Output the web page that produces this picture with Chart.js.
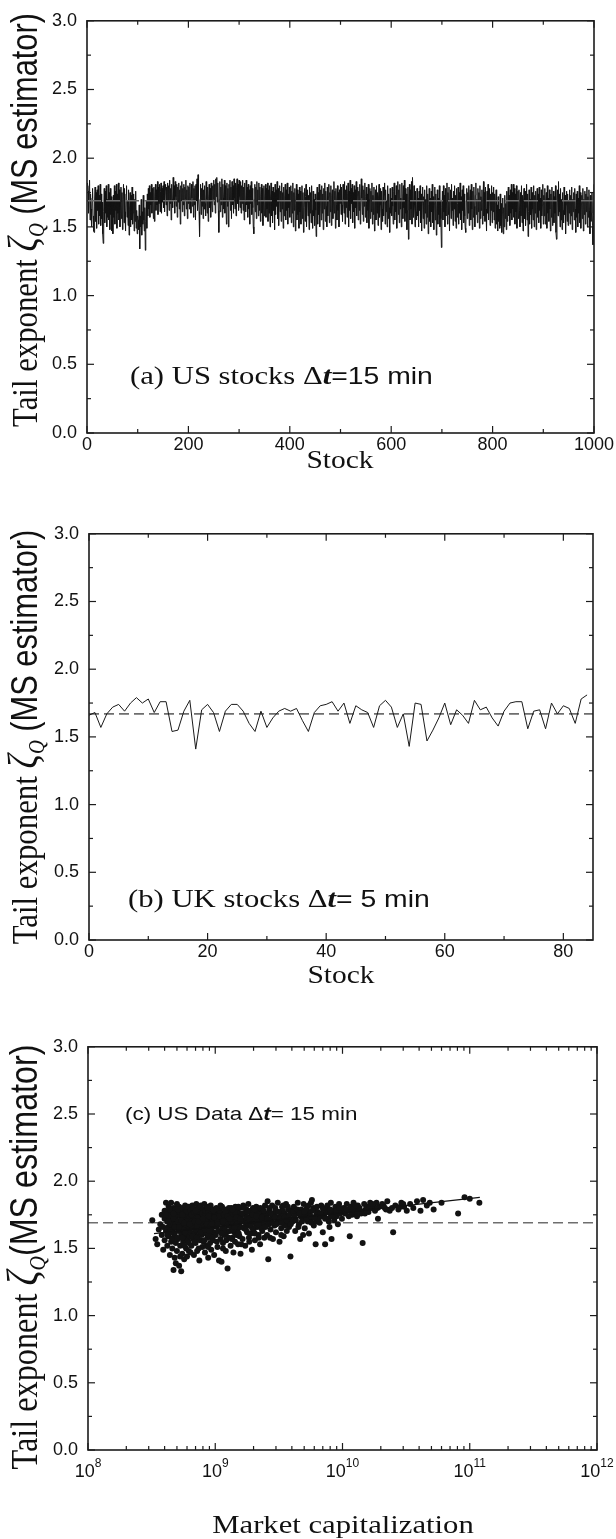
<!DOCTYPE html>
<html><head><meta charset="utf-8"><title>Tail exponent (MS estimator)</title>
<script src="https://cdn.jsdelivr.net/npm/chart.js@4.4.1/dist/chart.umd.min.js"></script>
<style>
html,body{margin:0;padding:0;background:#fff;}
#wrap{position:relative;width:616px;height:1539px;overflow:hidden;}
canvas{position:absolute;left:0;}
</style></head><body>
<div id="wrap">
<canvas id="cA" width="616" height="513" style="top:0"></canvas>
<canvas id="cB" width="616" height="513" style="top:513px"></canvas>
<canvas id="cC" width="616" height="513" style="top:1026px"></canvas>
</div>
<script>
// ---------------- DATA ----------------
// (a) US stocks, dt = 15 min : tail exponent per stock (stock 1..1000)
const usStocks15min = [
1.82,1.76,1.60,1.80,1.84,1.55,1.74,1.63,1.50,1.71,1.78,1.58,1.47,1.46,1.69,1.79,1.54,1.75,1.49,1.77,1.62,1.80,1.52,1.73,1.58,1.81,1.51,1.74,1.56,1.68,1.45,1.38,1.61,1.78,1.53,1.76,1.60,1.80,1.50,1.70,1.57,1.81,1.55,1.75,1.48,1.78,1.59,1.72,1.47,1.69,
1.45,1.73,1.57,1.80,1.52,1.76,1.62,1.81,1.49,1.74,1.60,1.82,1.55,1.77,1.50,1.68,1.79,1.56,1.75,1.48,1.70,1.81,1.53,1.78,1.61,1.47,1.74,1.80,1.57,1.69,1.51,1.77,1.44,1.63,1.75,1.50,1.73,1.55,1.79,1.52,1.60,1.74,1.47,1.70,1.54,1.76,1.49,1.62,1.45,1.58,
1.55,1.48,1.66,1.34,1.58,1.50,1.70,1.44,1.61,1.52,1.73,1.55,1.47,1.64,1.33,1.54,1.69,1.49,1.74,1.58,1.78,1.63,1.80,1.57,1.75,1.66,1.81,1.60,1.78,1.68,1.56,1.79,1.54,1.72,1.81,1.62,1.77,1.66,1.83,1.59,1.79,1.67,1.81,1.61,1.76,1.82,1.60,1.78,1.68,1.80,
1.64,1.83,1.61,1.77,1.81,1.66,1.79,1.58,1.82,1.69,1.80,1.62,1.84,1.67,1.78,1.55,1.81,1.70,1.64,1.86,1.69,1.80,1.60,1.83,1.72,1.65,1.81,1.57,1.79,1.68,1.82,1.63,1.77,1.52,1.80,1.69,1.83,1.61,1.78,1.66,1.81,1.58,1.79,1.70,1.84,1.63,1.77,1.56,1.80,1.67,
1.79,1.63,1.82,1.68,1.60,1.81,1.71,1.65,1.83,1.57,1.78,1.66,1.80,1.55,1.81,1.69,1.85,1.62,1.88,1.72,1.61,1.43,1.70,1.81,1.59,1.78,1.65,1.82,1.56,1.77,1.63,1.80,1.67,1.58,1.83,1.70,1.60,1.79,1.54,1.71,1.81,1.64,1.78,1.57,1.82,1.68,1.61,1.80,1.70,1.84,
1.66,1.81,1.60,1.85,1.72,1.86,1.68,1.82,1.62,1.46,1.70,1.83,1.61,1.79,1.66,1.85,1.57,1.81,1.71,1.63,1.84,1.60,1.80,1.68,1.52,1.82,1.65,1.78,1.50,1.81,1.69,1.84,1.62,1.79,1.56,1.83,1.66,1.80,1.60,1.85,1.71,1.63,1.82,1.58,1.79,1.85,1.67,1.81,1.62,1.84,
1.72,1.64,1.83,1.60,1.80,1.67,1.84,1.62,1.79,1.55,1.82,1.68,1.61,1.84,1.66,1.79,1.57,1.81,1.63,1.77,1.52,1.80,1.67,1.83,1.59,1.78,1.64,1.50,1.45,1.70,1.81,1.61,1.79,1.56,1.83,1.66,1.77,1.58,1.82,1.62,1.79,1.54,1.72,1.81,1.60,1.78,1.51,1.69,1.80,1.58,
1.70,1.81,1.57,1.78,1.63,1.82,1.54,1.77,1.60,1.80,1.50,1.71,1.82,1.58,1.76,1.53,1.79,1.62,1.75,1.48,1.81,1.59,1.77,1.65,1.83,1.56,1.78,1.51,1.68,1.80,1.61,1.76,1.54,1.82,1.63,1.75,1.49,1.79,1.58,1.71,1.81,1.55,1.77,1.62,1.82,1.52,1.74,1.64,1.79,1.57,
1.68,1.80,1.53,1.76,1.60,1.82,1.50,1.75,1.62,1.78,1.47,1.67,1.81,1.55,1.77,1.59,1.74,1.49,1.79,1.61,1.76,1.52,1.69,1.80,1.56,1.75,1.46,1.64,1.78,1.54,1.72,1.81,1.50,1.68,1.77,1.58,1.73,1.48,1.79,1.60,1.75,1.53,1.80,1.62,1.49,1.76,1.58,1.70,1.51,1.74,
1.62,1.43,1.70,1.79,1.52,1.75,1.59,1.81,1.50,1.69,1.77,1.55,1.80,1.60,1.74,1.48,1.78,1.63,1.82,1.54,1.76,1.65,1.50,1.79,1.58,1.72,1.81,1.53,1.75,1.61,1.80,1.51,1.73,1.77,1.56,1.68,1.83,1.60,1.76,1.49,1.78,1.66,1.55,1.80,1.62,1.75,1.50,1.77,1.67,1.81,
1.59,1.79,1.66,1.54,1.81,1.70,1.60,1.83,1.52,1.77,1.64,1.80,1.57,1.74,1.82,1.50,1.76,1.62,1.84,1.56,1.78,1.67,1.81,1.53,1.75,1.61,1.80,1.49,1.77,1.64,1.83,1.58,1.73,1.79,1.55,1.76,1.62,1.81,1.52,1.68,1.85,1.71,1.59,1.80,1.54,1.77,1.65,1.82,1.57,1.72,
1.79,1.53,1.74,1.62,1.81,1.49,1.70,1.78,1.56,1.76,1.61,1.82,1.52,1.73,1.59,1.79,1.47,1.68,1.77,1.55,1.80,1.60,1.75,1.51,1.71,1.81,1.57,1.66,1.78,1.48,1.76,1.63,1.54,1.79,1.58,1.73,1.82,1.52,1.77,1.61,1.69,1.50,1.80,1.56,1.74,1.64,1.46,1.78,1.60,1.71,
1.58,1.79,1.65,1.52,1.76,1.82,1.55,1.73,1.61,1.80,1.49,1.75,1.83,1.59,1.77,1.53,1.81,1.63,1.71,1.50,1.82,1.68,1.56,1.80,1.64,1.84,1.54,1.78,1.60,1.74,1.48,1.62,1.79,1.41,1.70,1.81,1.55,1.77,1.63,1.83,1.52,1.86,1.69,1.57,1.80,1.66,1.50,1.76,1.61,1.55,
1.78,1.58,1.71,1.50,1.76,1.62,1.80,1.53,1.74,1.47,1.68,1.79,1.56,1.72,1.49,1.77,1.60,1.70,1.52,1.80,1.57,1.74,1.45,1.66,1.78,1.54,1.71,1.50,1.76,1.61,1.81,1.53,1.72,1.48,1.67,1.79,1.55,1.74,1.44,1.63,1.77,1.52,1.71,1.59,1.80,1.50,1.69,1.56,1.35,1.64,
1.76,1.55,1.80,1.61,1.73,1.50,1.78,1.58,1.68,1.82,1.52,1.75,1.59,1.79,1.47,1.70,1.77,1.56,1.81,1.62,1.71,1.51,1.76,1.63,1.80,1.54,1.73,1.49,1.78,1.57,1.67,1.79,1.52,1.75,1.60,1.82,1.55,1.72,1.48,1.77,1.62,1.80,1.53,1.74,1.58,1.49,1.46,1.69,1.78,1.56,
1.75,1.60,1.80,1.51,1.71,1.77,1.55,1.81,1.63,1.48,1.76,1.57,1.79,1.65,1.50,1.73,1.82,1.59,1.70,1.53,1.78,1.61,1.75,1.49,1.80,1.56,1.72,1.62,1.77,1.52,1.68,1.83,1.58,1.75,1.54,1.79,1.63,1.47,1.76,1.60,1.81,1.55,1.70,1.78,1.51,1.74,1.62,1.80,1.53,1.75,
1.61,1.79,1.55,1.74,1.49,1.68,1.77,1.52,1.66,1.47,1.72,1.54,1.63,1.49,1.74,1.51,1.67,1.46,1.60,1.71,1.45,1.64,1.50,1.73,1.56,1.67,1.48,1.76,1.54,1.70,1.79,1.58,1.73,1.51,1.77,1.60,1.81,1.55,1.75,1.63,1.81,1.57,1.78,1.52,1.74,1.61,1.80,1.49,1.70,1.76,
1.56,1.77,1.62,1.50,1.75,1.58,1.80,1.53,1.73,1.47,1.69,1.78,1.56,1.76,1.51,1.64,1.81,1.55,1.74,1.43,1.61,1.77,1.52,1.70,1.59,1.79,1.49,1.75,1.63,1.55,1.80,1.50,1.73,1.60,1.76,1.48,1.69,1.78,1.57,1.74,1.53,1.79,1.62,1.71,1.49,1.77,1.58,1.66,1.81,1.52,
1.73,1.58,1.78,1.52,1.69,1.75,1.49,1.80,1.60,1.71,1.54,1.77,1.63,1.47,1.74,1.57,1.79,1.51,1.66,1.76,1.53,1.72,1.60,1.80,1.46,1.41,1.68,1.77,1.58,1.83,1.61,1.74,1.50,1.78,1.55,1.70,1.48,1.75,1.62,1.53,1.79,1.59,1.73,1.45,1.66,1.76,1.54,1.74,1.51,1.69,
1.60,1.77,1.52,1.73,1.58,1.79,1.48,1.70,1.61,1.75,1.55,1.78,1.63,1.46,1.74,1.57,1.76,1.50,1.71,1.60,1.80,1.53,1.75,1.49,1.67,1.73,1.56,1.78,1.47,1.70,1.59,1.76,1.52,1.74,1.61,1.79,1.50,1.72,1.57,1.77,1.62,1.45,1.73,1.54,1.60,1.75,1.51,1.37,1.58,1.81
];
const meanUS = 1.69;

// (b) UK stocks, dt = 5 min : tail exponent per stock (stock 0..84)
const ukStocks5min = [
1.66,1.68,1.57,1.67,1.72,1.74,1.69,1.75,1.79,1.75,
1.78,1.68,1.76,1.76,1.54,1.55,1.69,1.77,1.41,1.70,
1.74,1.68,1.54,1.69,1.74,1.74,1.69,1.60,1.54,1.69,
1.57,1.64,1.69,1.71,1.69,1.71,1.62,1.54,1.68,1.73,
1.74,1.76,1.69,1.75,1.60,1.73,1.70,1.68,1.57,1.73,
1.77,1.72,1.57,1.67,1.43,1.75,1.74,1.47,1.55,1.64,
1.75,1.59,1.70,1.66,1.60,1.77,1.70,1.72,1.64,1.58,
1.69,1.75,1.76,1.76,1.56,1.69,1.70,1.56,1.75,1.67,
1.73,1.71,1.60,1.78,1.81
];
const meanUK = 1.67;

// (c) US data, dt = 15 min : [market capitalization, tail exponent]
const usCapTail = [
[3.2e8,1.71],[3.4e8,1.57],[3.5e8,1.53],[3.6e8,1.64],[3.7e8,1.68],[3.8e8,1.60],[3.8e8,1.75],[3.9e8,1.49],[3.9e8,1.66],[4.0e8,1.78],[4.0e8,1.72],[4.0e8,1.56],
[4.1e8,1.84],[4.1e8,1.63],[4.2e8,1.70],[4.2e8,1.52],[4.2e8,1.77],[4.3e8,1.66],[4.3e8,1.59],[4.3e8,1.81],[4.4e8,1.73],[4.4e8,1.45],[4.4e8,1.62],[4.5e8,1.84],[4.5e8,1.69],[4.5e8,1.55],[4.5e8,1.76],[4.6e8,1.64],[4.6e8,1.50],[4.6e8,1.71],[4.7e8,1.80],[4.7e8,1.58],[4.7e8,1.67],[4.7e8,1.34],[4.8e8,1.74],[4.8e8,1.61],[4.8e8,1.43],[4.8e8,1.78],[4.9e8,1.68],[4.9e8,1.54],[4.9e8,1.72],[4.9e8,1.39],[5.0e8,1.83],[5.0e8,1.65],[5.0e8,1.48],[5.0e8,1.75],[4.3e8,1.74],[4.6e8,1.78],[4.4e8,1.68],[4.8e8,1.66],[4.2e8,1.60],[4.7e8,1.72],[4.5e8,1.62],[4.9e8,1.79],[4.1e8,1.75],[4.6e8,1.57],[4.4e8,1.79],
[5.1e8,1.70],[5.1e8,1.57],[5.2e8,1.81],[5.2e8,1.63],[5.2e8,1.37],[5.3e8,1.74],[5.3e8,1.52],[5.3e8,1.68],[5.4e8,1.33],[5.4e8,1.78],[5.4e8,1.60],[5.5e8,1.72],[5.5e8,1.46],[5.5e8,1.65],[5.6e8,1.80],[5.6e8,1.55],[5.6e8,1.69],[5.7e8,1.76],[5.7e8,1.42],[5.7e8,1.62],[5.8e8,1.73],[5.8e8,1.58],[5.8e8,1.82],[5.9e8,1.66],[5.9e8,1.50],[5.9e8,1.71],[6.0e8,1.79],[6.0e8,1.61],[6.0e8,1.44],[6.1e8,1.75],[6.1e8,1.56],[6.1e8,1.68],[6.2e8,1.81],[6.2e8,1.64],[6.2e8,1.48],[6.3e8,1.73],[6.3e8,1.59],[5.3e8,1.77],[5.6e8,1.64],[5.9e8,1.77],[6.1e8,1.63],[5.2e8,1.66],[5.5e8,1.58],[5.8e8,1.68],[6.0e8,1.70],[5.4e8,1.71],[5.7e8,1.69],[6.2e8,1.54],
[6.4e8,1.78],[6.4e8,1.62],[6.5e8,1.70],[6.5e8,1.52],[6.6e8,1.82],[6.6e8,1.66],[6.7e8,1.57],[6.7e8,1.74],[6.8e8,1.45],[6.8e8,1.69],[6.9e8,1.79],[6.9e8,1.61],[7.0e8,1.72],[7.0e8,1.54],[7.1e8,1.83],[7.1e8,1.65],[7.2e8,1.48],[7.2e8,1.76],[7.3e8,1.68],[7.3e8,1.59],[7.4e8,1.80],[7.4e8,1.63],[7.5e8,1.41],[7.5e8,1.71],[7.6e8,1.77],[7.6e8,1.56],[7.7e8,1.67],[7.7e8,1.82],[7.8e8,1.60],[7.8e8,1.74],[7.9e8,1.51],[7.9e8,1.70],[8.0e8,1.79],[8.0e8,1.64],[6.5e8,1.75],[6.8e8,1.77],[7.0e8,1.64],[7.3e8,1.73],[7.6e8,1.69],[7.9e8,1.76],[6.6e8,1.59],[7.1e8,1.58],[7.5e8,1.66],[7.8e8,1.68],[6.9e8,1.70],[7.2e8,1.67],
[8.1e8,1.72],[8.1e8,1.55],[8.2e8,1.83],[8.2e8,1.66],[8.3e8,1.47],[8.3e8,1.75],[8.4e8,1.61],[8.4e8,1.78],[8.5e8,1.69],[8.5e8,1.52],[8.6e8,1.81],[8.6e8,1.64],[8.7e8,1.73],[8.7e8,1.58],[8.8e8,1.43],[8.8e8,1.77],[8.9e8,1.67],[8.9e8,1.60],[9.0e8,1.80],[9.0e8,1.71],[9.1e8,1.54],[9.1e8,1.75],[9.2e8,1.63],[9.2e8,1.82],[9.3e8,1.69],[9.3e8,1.49],[9.4e8,1.76],[9.4e8,1.59],[9.5e8,1.72],[9.5e8,1.66],[9.6e8,1.79],[9.6e8,1.56],[9.7e8,1.70],[9.7e8,1.62],[9.8e8,1.77],[9.8e8,1.45],[9.9e8,1.68],[9.9e8,1.74],[8.4e8,1.70],[8.9e8,1.74],[9.3e8,1.65],[9.7e8,1.78],[8.6e8,1.68],[9.1e8,1.66],
[1.00e9,1.73],[1.01e9,1.60],[1.02e9,1.80],[1.03e9,1.66],[1.04e9,1.51],[1.05e9,1.75],[1.06e9,1.63],[1.07e9,1.41],[1.08e9,1.78],[1.09e9,1.69],[1.10e9,1.57],[1.11e9,1.72],[1.12e9,1.40],[1.13e9,1.81],[1.14e9,1.65],[1.15e9,1.54],[1.16e9,1.76],[1.17e9,1.68],[1.18e9,1.60],[1.19e9,1.79],[1.20e9,1.71],[1.21e9,1.48],[1.22e9,1.74],[1.23e9,1.62],[1.24e9,1.77],[1.25e9,1.35],[1.26e9,1.67],[1.27e9,1.58],[1.28e9,1.80],[1.29e9,1.70],[1.04e9,1.70],[1.09e9,1.76],[1.14e9,1.72],[1.19e9,1.64],[1.24e9,1.69],[1.02e9,1.67],[1.07e9,1.74],[1.12e9,1.61],[1.17e9,1.75],[1.22e9,1.56],[1.27e9,1.73],
[1.30e9,1.63],[1.31e9,1.77],[1.32e9,1.52],[1.33e9,1.70],[1.34e9,1.80],[1.35e9,1.66],[1.36e9,1.58],[1.37e9,1.74],[1.38e9,1.69],[1.39e9,1.47],[1.40e9,1.78],[1.41e9,1.62],[1.42e9,1.72],[1.43e9,1.55],[1.44e9,1.81],[1.45e9,1.67],[1.46e9,1.75],[1.47e9,1.60],[1.48e9,1.71],[1.49e9,1.79],[1.50e9,1.64],[1.51e9,1.53],[1.52e9,1.76],[1.53e9,1.68],[1.54e9,1.73],[1.55e9,1.59],[1.56e9,1.80],[1.57e9,1.66],[1.58e9,1.46],[1.59e9,1.74],[1.33e9,1.75],[1.38e9,1.64],[1.43e9,1.77],[1.48e9,1.68],[1.53e9,1.61],[1.58e9,1.70],
[1.62e9,1.71],[1.64e9,1.57],[1.66e9,1.82],[1.68e9,1.65],[1.70e9,1.76],[1.72e9,1.52],[1.74e9,1.69],[1.76e9,1.79],[1.78e9,1.62],[1.80e9,1.73],[1.82e9,1.83],[1.84e9,1.58],[1.86e9,1.67],[1.88e9,1.77],[1.90e9,1.61],[1.92e9,1.74],[1.94e9,1.49],[1.96e9,1.70],[1.98e9,1.80],[2.00e9,1.64],[2.02e9,1.75],[2.05e9,1.56],[2.08e9,1.72],[2.10e9,1.81],[2.13e9,1.66],[2.16e9,1.77],[2.19e9,1.60],[2.22e9,1.73],[2.25e9,1.53],[2.28e9,1.69],[2.31e9,1.79],[2.34e9,1.63],[2.37e9,1.76],[2.40e9,1.68],[2.43e9,1.58],[2.46e9,1.82],[2.49e9,1.71],[1.70e9,1.66],[1.80e9,1.69],[1.90e9,1.78],[2.00e9,1.72],[2.10e9,1.67],[2.20e9,1.75],[2.30e9,1.65],[2.40e9,1.74],[1.75e9,1.73],[1.95e9,1.65],[2.15e9,1.70],[2.35e9,1.70],
[2.52e9,1.74],[2.55e9,1.60],[2.58e9,1.85],[2.61e9,1.42],[2.64e9,1.68],[2.68e9,1.78],[2.72e9,1.64],[2.76e9,1.72],[2.80e9,1.82],[2.84e9,1.57],[2.88e9,1.75],[2.92e9,1.67],[2.96e9,1.80],[3.00e9,1.62],[3.05e9,1.73],[3.10e9,1.84],[3.15e9,1.69],[3.20e9,1.55],[3.25e9,1.77],[3.30e9,1.65],[3.35e9,1.81],[3.40e9,1.71],[3.45e9,1.59],[3.50e9,1.76],[3.55e9,1.68],[3.60e9,1.83],[3.65e9,1.63],[3.70e9,1.74],[3.75e9,1.79],[3.80e9,1.66],[3.85e9,1.72],[3.90e9,1.44],[3.95e9,1.78],[2.70e9,1.70],[2.90e9,1.76],[3.10e9,1.70],[3.30e9,1.74],[3.50e9,1.67],[3.70e9,1.70],[2.60e9,1.76],[3.00e9,1.78],[3.40e9,1.78],
[4.05e9,1.70],[4.15e9,1.81],[4.25e9,1.63],[4.35e9,1.76],[4.45e9,1.84],[4.55e9,1.68],[4.65e9,1.57],[4.75e9,1.79],[4.85e9,1.72],[4.95e9,1.83],[5.05e9,1.65],[5.15e9,1.75],[5.25e9,1.80],[5.35e9,1.70],[5.45e9,1.61],[5.55e9,1.77],[5.65e9,1.84],[5.75e9,1.86],[5.85e9,1.73],[5.95e9,1.67],[6.05e9,1.79],[6.15e9,1.53],[6.25e9,1.75],[4.30e9,1.71],[4.70e9,1.74],[5.10e9,1.78],[5.50e9,1.72],[5.90e9,1.80],[4.50e9,1.66],[4.90e9,1.60],[5.30e9,1.74],[5.70e9,1.69],[6.20e9,1.70],
[6.4e9,1.77],[6.6e9,1.69],[6.8e9,1.82],[7.0e9,1.62],[7.2e9,1.75],[7.3e9,1.53],[7.5e9,1.80],[7.7e9,1.72],[7.9e9,1.66],[8.1e9,1.84],[8.2e9,1.57],[8.4e9,1.78],[8.6e9,1.71],[8.8e9,1.81],[9.0e9,1.74],[9.2e9,1.68],[9.4e9,1.83],[9.6e9,1.76],[9.8e9,1.79],[6.9e9,1.74],[7.4e9,1.77],[8.0e9,1.76],[8.7e9,1.75],[9.3e9,1.78],[6.5e9,1.72],[7.1e9,1.79],[7.8e9,1.70],[9.9e9,1.72],
[1.02e10,1.80],[1.05e10,1.76],[1.08e10,1.83],[1.10e10,1.78],[1.14e10,1.59],[1.16e10,1.81],[1.19e10,1.75],[1.22e10,1.84],[1.25e10,1.79],[1.28e10,1.77],[1.32e10,1.82],[1.36e10,1.80],[1.40e10,1.76],[1.44e10,1.54],[1.48e10,1.83],[1.52e10,1.79],[1.56e10,1.81],[1.60e10,1.77],[1.65e10,1.84],[1.70e10,1.80],[1.75e10,1.82],[1.80e10,1.78],[1.85e10,1.84],[1.90e10,1.72],[1.95e10,1.81],[1.12e10,1.74],[1.30e10,1.74],[1.50e10,1.76],[1.20e10,1.79],[1.62e10,1.80],
[2.05e10,1.83],[2.15e10,1.80],[2.25e10,1.85],[2.35e10,1.78],[2.50e10,1.62],[2.60e10,1.82],[2.75e10,1.79],[2.90e10,1.84],[3.05e10,1.81],[3.20e10,1.78],[3.40e10,1.83],[3.60e10,1.80],[3.85e10,1.85],[4.10e10,1.78],[4.30e10,1.86],[4.60e10,1.82],[4.85e10,1.84],[2.20e10,1.79],[3.00e10,1.83],
[5.2e10,1.79],[6.0e10,1.84],[8.1e10,1.76],[9.1e10,1.88],[1.0e11,1.87],[1.19e11,1.84],
[4.3e8,1.70],[4.7e8,1.76],[5.1e8,1.79],[5.5e8,1.75],[5.8e8,1.62],[6.3e8,1.68],[6.7e8,1.80],[7.0e8,1.78],[7.4e8,1.70],[7.7e8,1.62],[8.0e8,1.72],[8.3e8,1.64],[8.7e8,1.80],[9.0e8,1.63],[9.4e8,1.68],[9.8e8,1.73],
[1.05e9,1.68],[1.10e9,1.82],[1.15e9,1.70],[1.20e9,1.77],[1.25e9,1.74],[1.30e9,1.72],[1.36e9,1.79],[1.42e9,1.66],[1.47e9,1.73],[1.52e9,1.81],[1.57e9,1.72],[1.63e9,1.76],[1.69e9,1.80],[1.74e9,1.64],[1.79e9,1.77],[1.85e9,1.72],[1.91e9,1.68],[1.97e9,1.75],[2.04e9,1.79],[2.11e9,1.74],[2.18e9,1.68],[2.26e9,1.80],[2.33e9,1.73],[2.41e9,1.78],[2.48e9,1.66],
[2.56e9,1.72],[2.66e9,1.80],[2.74e9,1.76],[2.82e9,1.69],[2.94e9,1.73],[3.02e9,1.68],[3.12e9,1.77],[3.22e9,1.72],[3.32e9,1.69],[3.42e9,1.82],[3.52e9,1.73],[3.62e9,1.71],[3.72e9,1.81],[3.82e9,1.75],[3.92e9,1.68],
[4.1e9,1.77],[4.2e9,1.74],[4.4e9,1.79],[4.6e9,1.76],[4.8e9,1.70],[5.0e9,1.77],[5.2e9,1.72],[5.4e9,1.82],[5.6e9,1.74],[5.8e9,1.78],[6.0e9,1.73],[6.3e9,1.81],
[6.7e9,1.76],[7.0e9,1.80],[7.3e9,1.72],[7.6e9,1.82],[8.0e9,1.79],[8.3e9,1.74],[8.9e9,1.78],[9.5e9,1.80],
[1.07e10,1.79],[1.17e10,1.77],[1.27e10,1.82],[1.38e10,1.78],[1.55e10,1.78],[1.72e10,1.83],[1.88e10,1.80],[2.10e10,1.82],[2.45e10,1.80],[2.85e10,1.81],
[5.0e8,1.58],[5.3e8,1.44],[5.7e8,1.52],[6.4e8,1.47],[6.9e8,1.55],[7.4e8,1.50],[8.2e8,1.56],[8.8e8,1.51],[9.5e8,1.58],[1.03e9,1.55],[1.15e9,1.50],[1.35e9,1.57],[1.60e9,1.53],[1.85e9,1.55],[2.20e9,1.58],[2.05e9,1.61],[2.7e9,1.58],[3.3e9,1.60]
];
const capFitLine = [[3.3e8,1.61],[1.2e11,1.88]];
const meanCap = 1.69;

// ---------------- TICKS ----------------
const stockTicksUS = [0,200,400,600,800,1000];
const stockMinorUS = [100,300,500,700,900];
const stockTicksUK = [0,20,40,60,80];
const stockMinorUK = [10,30,50,70];
const zetaTicks = [0,0.5,1.0,1.5,2.0,2.5,3.0];
const zetaMinor = [0.25,0.75,1.25,1.75,2.25,2.75];
const capDecades = [1e8,1e9,1e10,1e11,1e12];
const capExponents = ['8','9','10','11','12'];
const capMinorFactors = [2,3,4,5,6,7,8,9];

// ---------------- STYLE / LAYOUT ----------------
const SERIF = '"Liberation Serif","Times New Roman",Times,serif';
const SANS = '"Liberation Sans",Arial,Helvetica,sans-serif';
const SX = 1.18;          // horizontal text stretch of the original figure
const H = 513;
const TICK_FONT = {family: SANS, size: 18};

function fontStr(style, size, fam){ return `${style}${size}px ${fam}`; }

function drawRich(ctx, x, y, parts, sx, align){
  let w = 0;
  parts.forEach(p => { ctx.font = p.f; p.w = ctx.measureText(p.t).width; w += p.w; });
  ctx.save();
  ctx.translate(x, y); ctx.scale(sx, 1);
  ctx.fillStyle = '#111'; ctx.textBaseline = 'alphabetic'; ctx.textAlign = 'left';
  let cx = align === 'center' ? -w/2 : 0;
  parts.forEach(p => { ctx.font = p.f; ctx.fillText(p.t, cx, p.dy || 0); cx += p.w; });
  ctx.restore();
}

function drawYTitle(ctx, bx, cy, len, gap){
  const parts = [
    {t:'Tail exponent ', st:'', fam:SERIF, k:1, dy:0},
    {t:'\u03B6', st:'italic ', fam:SERIF, k:1.15, dy:0},
    {t:'Q', st:'italic ', fam:SERIF, k:0.62, dy:6},
    {t: gap ? ' (MS estimator)' : '(MS estimator)', st:'', fam:SANS, k:1, dy:0}
  ];
  const base = 30;
  let w = 0;
  parts.forEach(p => { ctx.font = fontStr(p.st, p.k*base, p.fam); w += ctx.measureText(p.t).width; });
  const s = base * len / w;
  w = 0;
  parts.forEach(p => { ctx.font = fontStr(p.st, p.k*s, p.fam); p.w = ctx.measureText(p.t).width; w += p.w; });
  ctx.save();
  ctx.translate(bx, cy); ctx.scale(SX, 1); ctx.rotate(-Math.PI/2);
  ctx.fillStyle = '#111'; ctx.textBaseline = 'alphabetic'; ctx.textAlign = 'left';
  let x = -w/2;
  parts.forEach(p => { ctx.font = fontStr(p.st, p.k*s, p.fam); ctx.fillText(p.t, x, p.dy*s/base); x += p.w; });
  ctx.restore();
}

function decor(o){
  return { id: 'decor', afterDraw(chart){
    const ctx = chart.ctx, a = chart.chartArea, xs = chart.scales.x, ys = chart.scales.y;
    ctx.save();
    ctx.strokeStyle = '#1c1c1c'; ctx.lineWidth = 1.2;
    const seg = (x1,y1,x2,y2) => { ctx.beginPath(); ctx.moveTo(x1,y1); ctx.lineTo(x2,y2); ctx.stroke(); };
    const xt = (v, len) => { const p = xs.getPixelForValue(v); seg(p, a.bottom, p, a.bottom - len); seg(p, a.top, p, a.top + len); };
    const yt = (v, len) => { const p = ys.getPixelForValue(v); seg(a.left, p, a.left + len, p); seg(a.right, p, a.right - len, p); };
    o.xMajor.forEach(v => xt(v, 7));
    o.xMinor.forEach(v => xt(v, 4));
    zetaTicks.forEach(v => yt(v, 7));
    zetaMinor.forEach(v => yt(v, 4));
    ctx.lineWidth = 1.6;
    ctx.strokeRect(a.left, a.top, a.right - a.left, a.bottom - a.top);
    if (o.logLabels) {
      capDecades.forEach((v, i) => {
        const p = xs.getPixelForValue(v);
        const parts = [
          {t:'10', f: fontStr('', 18, SANS), dy: 0},
          {t:capExponents[i], f: fontStr('', 12, SANS), dy: -10}
        ];
        drawRich(ctx, p, a.bottom + o.logLabels.dy, parts, 1, 'center');
      });
    }
    drawYTitle(ctx, o.yTitle.bx, o.yTitle.cy, o.yTitle.len, o.yTitle.gap);
    drawRich(ctx, o.xTitle.x, o.xTitle.y, [{t:o.xTitle.t, f: fontStr('', o.xTitle.size, SERIF)}], SX, 'center');
    drawRich(ctx, o.note.x, o.note.y, o.note.parts, SX, 'left');
    ctx.restore();
  }};
}

function baseOptions(g, xType, xMin, xMax, xTicks, showXLabels){
  return {
    responsive: false, animation: false, devicePixelRatio: 1, events: [],
    layout: { padding: { top: g.T, right: 616 - g.R, bottom: 0, left: 0 } },
    plugins: { legend: { display: false }, tooltip: { enabled: false } },
    scales: {
      x: {
        type: xType, min: xMin, max: xMax, position: 'bottom',
        afterFit: s => { s.height = H - g.B; },
        afterBuildTicks: s => { s.ticks = xTicks.map(v => ({ value: v })); },
        grid: { display: false, drawTicks: false }, border: { display: false },
        ticks: { display: showXLabels, autoSkip: false, maxRotation: 0, minRotation: 0, padding: g.xPad,
                 color: '#111', font: TICK_FONT, callback: v => String(v) }
      },
      y: {
        type: 'linear', min: 0, max: 3, position: 'left',
        afterFit: s => { s.width = g.L; },
        afterBuildTicks: s => { s.ticks = zetaTicks.map(v => ({ value: v })); },
        grid: { display: false, drawTicks: false }, border: { display: false },
        ticks: { autoSkip: false, padding: g.yPad, color: '#111', font: TICK_FONT,
                 callback: v => Number(v).toFixed(1) }
      }
    }
  };
}

// ---------------- PANEL (a) ----------------
const gA = {L: 87, R: 594, T: 14, B: 433, xPad: 1, yPad: 10};
new Chart(document.getElementById('cA'), {
  type: 'line',
  data: { datasets: [
    { data: [{x: 0, y: meanUS}, {x: 1000, y: meanUS}], borderColor: '#6e6e6e', borderWidth: 1.5,
      borderDash: [14, 5], pointRadius: 0, order: 0 },
    { data: usStocks15min.map((v, i) => ({x: i + 1, y: v})), borderColor: '#141414', borderWidth: 1,
      pointRadius: 0, order: 1 }
  ]},
  options: baseOptions(gA, 'linear', 0, 1000, stockTicksUS, true),
  plugins: [decor({
    xMajor: stockTicksUS, xMinor: stockMinorUS,
    yTitle: {bx: 37, cy: 220, len: 414, gap: true},
    xTitle: {t: 'Stock', x: 340, y: 468, size: 25},
    note: {x: 130, y: 384, parts: [
      {t: '(a) US stocks ', f: fontStr('', 26, SERIF)},
      {t: '\u0394', f: fontStr('', 26, SERIF)},
      {t: 't', f: fontStr('italic bold ', 26, SERIF)},
      {t: '=15 min', f: fontStr('', 24, SANS)}
    ]}
  })]
});

// ---------------- PANEL (b) ----------------
const gB = {L: 89, R: 593, T: 17, B: 427, xPad: 1, yPad: 10};
new Chart(document.getElementById('cB'), {
  type: 'line',
  data: { datasets: [
    { data: [{x: 0, y: meanUK}, {x: 85, y: meanUK}], borderColor: '#6e6e6e', borderWidth: 1.6,
      borderDash: [10, 5], pointRadius: 0, order: 1 },
    { data: ukStocks5min.map((v, i) => ({x: i, y: v})), borderColor: '#1a1a1a', borderWidth: 1,
      pointRadius: 0, order: 0 }
  ]},
  options: baseOptions(gB, 'linear', 0, 85, stockTicksUK, true),
  plugins: [decor({
    xMajor: stockTicksUK, xMinor: stockMinorUK,
    yTitle: {bx: 37, cy: 224, len: 415, gap: true},
    xTitle: {t: 'Stock', x: 341, y: 470, size: 25},
    note: {x: 128, y: 394, parts: [
      {t: '(b) UK stocks ', f: fontStr('', 26, SERIF)},
      {t: '\u0394', f: fontStr('', 26, SERIF)},
      {t: 't', f: fontStr('italic bold ', 26, SERIF)},
      {t: '= 5 min', f: fontStr('', 24, SANS)}
    ]}
  })]
});

// ---------------- PANEL (c) ----------------
const gC = {L: 88, R: 597, T: 19, B: 424, xPad: 1, yPad: 10};
const capMinor = [];
capDecades.slice(0, -1).forEach(d => capMinorFactors.forEach(f => capMinor.push(d * f)));
new Chart(document.getElementById('cC'), {
  type: 'scatter',
  data: { datasets: [
    { data: [{x: 1e8, y: meanCap}, {x: 1e12, y: meanCap}], showLine: true, borderColor: '#6e6e6e',
      borderWidth: 1.5, borderDash: [10, 5], pointRadius: 0, order: 3 },
    { data: usCapTail.map(p => ({x: p[0], y: p[1]})), pointRadius: 3.0, pointBorderWidth: 0,
      pointBackgroundColor: '#121212', backgroundColor: '#121212', borderColor: '#121212', order: 2 },
    { data: capFitLine.map(p => ({x: p[0], y: p[1]})), showLine: true, borderColor: '#111',
      borderWidth: 1.2, pointRadius: 0, order: 1 }
  ]},
  options: baseOptions(gC, 'logarithmic', 1e8, 1e12, capDecades, false),
  plugins: [decor({
    xMajor: capDecades, xMinor: capMinor, logLabels: {dy: 27},
    yTitle: {bx: 37, cy: 231, len: 425, gap: false},
    xTitle: {t: 'Market capitalization', x: 343, y: 507, size: 26},
    note: {x: 125, y: 94, parts: [
      {t: '(c) US Data ', f: fontStr('', 19, SANS)},
      {t: '\u0394', f: fontStr('', 19, SANS)},
      {t: 't', f: fontStr('italic bold ', 19, SANS)},
      {t: '= 15 min', f: fontStr('', 19, SANS)}
    ]}
  })]
});
</script>
</body></html>
